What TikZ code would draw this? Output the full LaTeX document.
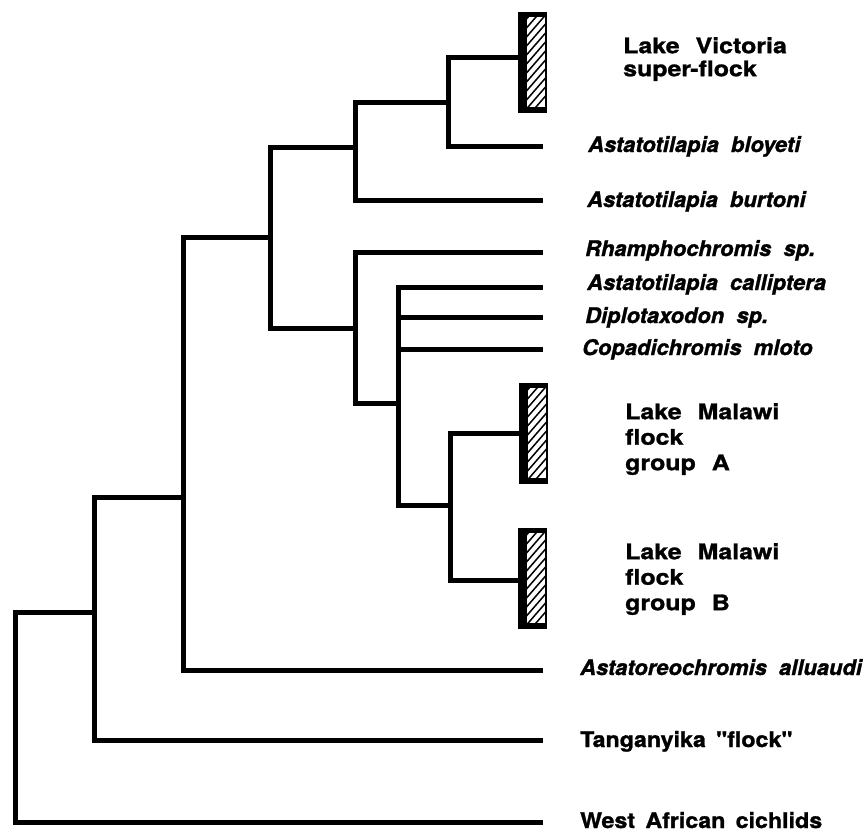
\documentclass[tikz,border=0pt]{standalone}
\usepackage{fontspec}
\setmainfont{TeX Gyre Heros}
\newfontfamily\grpfont{TeX Gyre Heros}[FakeStretch=1.16, WordSpace=2.3, FakeBold=1.2]
\newfontfamily\westfont{TeX Gyre Heros}[FakeStretch=1.08, WordSpace=1.6, FakeBold=1.2]
\newfontfamily\spfont{TeX Gyre Heros}[FakeStretch=1.02, WordSpace=2.0, FakeBold=1.2]
\begin{document}
\begin{tikzpicture}[x=1pt,y=-1pt,
  br/.style={line width=5pt, line join=miter, line cap=rect},
  lab/.style={inner sep=0pt, anchor=base west, font=\fontsize{21.5}{25}\spfont\bfseries\itshape},
  grp/.style={inner sep=0pt, anchor=north west, align=left, font=\fontsize{21.5}{25.5}\grpfont\bfseries},
  flock/.pic={
    \fill (0,0) rectangle (29,101);
    \fill[white] (9,5) rectangle (27,95);
    \begin{scope}
      \clip (9,5) rectangle (27,95);
      \foreach \k in {0,...,14} \draw[line width=1.5pt] (5,110-\k*9) -- ++(26,-30);
    \end{scope}
    \coordinate (-in) at (0,#1);
  }]
\useasboundingbox (0,0) rectangle (868,838);
\fill[white] (0,0) rectangle (868,838);

% hatched flock boxes
\pic (vic) at (518,12) {flock=45};
\pic (mA) at (519,383) {flock=50};
\pic (mB) at (518,528) {flock=52};

% internal nodes
\coordinate (R) at (15,700);
\coordinate (B) at (94,612);
\coordinate (C) at (183,497);
\coordinate (D) at (270,237);
\coordinate (E) at (355,147);
\coordinate (F) at (448,102);
\coordinate (G) at (355,328);
\coordinate (H) at (398,403);
\coordinate (I) at (450,505);

% leaf ends
\coordinate (lbloy) at (540,146);
\coordinate (lburt) at (540,200);
\coordinate (lrham) at (540,252);
\coordinate (lcall) at (540,287);
\coordinate (ldipl) at (540,317);
\coordinate (lcopa) at (540,349);
\coordinate (lalu) at (540,670);
\coordinate (ltang) at (540,740);
\coordinate (lwest) at (540,822);

% branches
\draw[br] (B) -| (R) |- (lwest);
\draw[br] (C) -| (B) |- (ltang);
\draw[br] (D) -| (C) |- (lalu);
\draw[br] (E) -| (D) |- (G);
\draw[br] (F) -| (E) |- (lburt);
\draw[br] (vic-in) -| (F) |- (lbloy);
\draw[br] (lrham) -| (G) |- (H);
\draw[br] (lcall) -| (H) |- (I);
\draw[br] (H |- ldipl) -- (ldipl);
\draw[br] (H |- lcopa) -- (lcopa);
\draw[br] (mA-in) -| (I) |- (mB-in);

% labels
\node[grp, font=\fontsize{21.5}{23}\grpfont\bfseries] (tvic) at (623,37) {Lake Victoria\\super-flock};
\node[lab] (tbloy) at (588,152) {Astatotilapia bloyeti};
\node[lab] (tburt) at (587,207) {Astatotilapia burtoni};
\node[lab] (trham) at (585,256) {Rhamphochromis sp.};
\node[lab] (tcall) at (587,290) {Astatotilapia calliptera};
\node[lab] (tdipl) at (585,323) {Diplotaxodon sp.};
\node[lab] (tcopa) at (582,355) {Copadichromis mloto};
\node[grp] (tmA) at (625,403) {Lake Malawi\\flock\\group A};
\node[grp] (tmB) at (625,543) {Lake Malawi\\flock\\group B};
\node[lab] (talu) at (580,675) {Astatoreochromis alluaudi};
\node[lab, font=\fontsize{21.5}{25}\westfont\bfseries] (ttang) at (580,747) {Tanganyika "flock"};
\node[lab, font=\fontsize{21.5}{25}\westfont\bfseries] (twest) at (580,828) {West African cichlids};
\end{tikzpicture}
\end{document}
